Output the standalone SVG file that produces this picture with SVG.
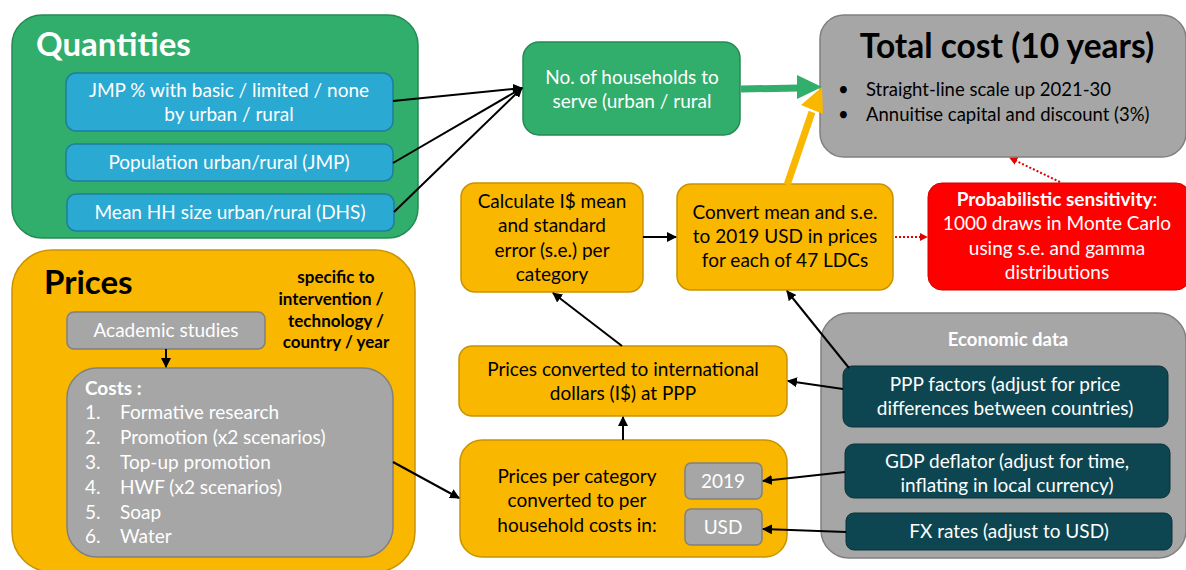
<svg xmlns="http://www.w3.org/2000/svg" width="1186" height="570" viewBox="0 0 1186 570">
<defs>
<style>
text{font-family:Lato,"Open Sans","Liberation Sans",sans-serif;font-size:19px}
.w{fill:#ffffff}
.k{fill:#000000}
.c{text-anchor:middle}
.b{font-weight:bold}
.sp{font-size:17px;font-weight:bold}
.green{fill:#31AD6C;stroke:#248A53;stroke-width:1.5}
.blue{fill:#2AA9D2;stroke:#1E7E9E;stroke-width:1.5}
.orange{fill:#F9B700;stroke:#C99300;stroke-width:1.5}
.gray{fill:#A6A6A6;stroke:#808080;stroke-width:1.5}
.teal{fill:#0D4651;stroke:#0A333B;stroke-width:1}
.red{fill:#FF0000;stroke:#D00000;stroke-width:1}
.ln{stroke:#000;stroke-width:2;fill:none;marker-end:url(#ah)}
.dot{stroke:#E00000;stroke-width:2;stroke-dasharray:2 2;fill:none;marker-end:url(#rh)}
</style>
<marker id="ah" viewBox="0 0 10 10" refX="9" refY="5" markerWidth="5" markerHeight="5" orient="auto">
<path d="M0,0 L10,5 L0,10 z" fill="#000"/>
</marker>
<marker id="rh" viewBox="0 0 10 10" refX="9" refY="5" markerWidth="4" markerHeight="4" orient="auto">
<path d="M0,0 L10,5 L0,10 z" fill="#E00000"/>
</marker>
</defs>

<g id="quantities">
<rect class="green" x="12" y="15" width="406" height="223" rx="30"/>
<text class="w b" x="36" y="56" style="font-size:33px">Quantities</text>
</g>
<g id="jmp">
<rect class="blue" x="66" y="73" width="327" height="58" rx="10"/>
<text class="w c" x="229" y="97">JMP % with basic / limited / none</text>
<text class="w c" x="229" y="121">by urban / rural</text>
</g>
<g id="population">
<rect class="blue" x="66" y="144" width="327" height="37" rx="9"/>
<text class="w c" x="229" y="169">Population urban/rural (JMP)</text>
</g>
<g id="hhsize">
<rect class="blue" x="67" y="194" width="327" height="37" rx="9"/>
<text class="w c" x="230" y="219">Mean HH size urban/rural (DHS)</text>
</g>

<g id="prices">
<rect class="orange" x="12" y="250" width="403" height="322" rx="40"/>
<text class="k b" x="44" y="294" style="font-size:33px">Prices</text>
<text class="k sp c" x="336" y="283">specific to</text>
<text class="k sp c" x="331" y="305">intervention /</text>
<text class="k sp c" x="336" y="327">technology /</text>
<text class="k sp c" x="336" y="348">country / year</text>
</g>
<g id="academic">
<rect class="gray" x="67" y="312" width="198" height="37" rx="7"/>
<text class="w c" x="166" y="337">Academic studies</text>
</g>
<g id="costs">
<rect class="gray" x="67" y="368" width="326" height="189" rx="30"/>
<text class="w b" x="85" y="395">Costs :</text>
<text class="w" x="85" y="419">1.</text><text class="w" x="120" y="419">Formative research</text>
<text class="w" x="85" y="444">2.</text><text class="w" x="120" y="444">Promotion (x2 scenarios)</text>
<text class="w" x="85" y="469">3.</text><text class="w" x="120" y="469">Top-up promotion</text>
<text class="w" x="85" y="494">4.</text><text class="w" x="120" y="494">HWF (x2 scenarios)</text>
<text class="w" x="85" y="519">5.</text><text class="w" x="120" y="519">Soap</text>
<text class="w" x="85" y="543">6.</text><text class="w" x="120" y="543">Water</text>
</g>

<g id="households">
<rect class="green" x="523" y="42" width="217" height="93" rx="16"/>
<text class="w c" x="632" y="84">No. of households to</text>
<text class="w c" x="632" y="108">serve (urban / rural</text>
</g>

<g id="totalcost">
<rect class="gray" x="820" y="15" width="366" height="142" rx="24"/>
<text class="k b c" x="1007" y="58" style="font-size:33.5px">Total cost (10 years)</text>
<text class="k" x="838" y="96" style="font-size:18.5px">•</text>
<text class="k" x="866" y="96" style="font-size:18.5px">Straight-line scale up 2021-30</text>
<text class="k" x="838" y="121" style="font-size:18.5px">•</text>
<text class="k" x="866" y="121" style="font-size:18.5px">Annuitise capital and discount (3%)</text>
</g>

<g id="calculate">
<rect class="orange" x="461" y="183" width="182" height="109" rx="14"/>
<text class="k c" x="552" y="208">Calculate I$ mean</text>
<text class="k c" x="552" y="232">and standard</text>
<text class="k c" x="552" y="257">error (s.e.) per</text>
<text class="k c" x="552" y="281">category</text>
</g>
<g id="convert">
<rect class="orange" x="677" y="184" width="216" height="106" rx="14"/>
<text class="k c" x="785" y="219">Convert mean and s.e.</text>
<text class="k c" x="785" y="243">to 2019 USD in prices</text>
<text class="k c" x="785" y="267">for each of 47 LDCs</text>
</g>
<g id="sensitivity">
<rect class="red" x="928" y="183" width="262" height="107" rx="14"/>
<text class="w c" x="1057" y="206"><tspan class="b">Probabilistic sensitivity</tspan>:</text>
<text class="w c" x="1057" y="230">1000 draws in Monte Carlo</text>
<text class="w c" x="1057" y="255">using s.e. and gamma</text>
<text class="w c" x="1057" y="279">distributions</text>
</g>

<g id="ppp-conv">
<rect class="orange" x="459" y="346" width="328" height="70" rx="13"/>
<text class="k c" x="623" y="376">Prices converted to international</text>
<text class="k c" x="623" y="400">dollars (I$) at PPP</text>
</g>
<g id="perhh">
<rect class="orange" x="460" y="440" width="327" height="117" rx="22"/>
<text class="k c" x="577" y="483">Prices per category</text>
<text class="k c" x="577" y="507">converted to per</text>
<text class="k c" x="577" y="532">household costs in:</text>
</g>
<g id="y2019">
<rect class="gray" x="685" y="463" width="77" height="36" rx="6"/>
<text class="w c" x="723" y="488">2019</text>
</g>
<g id="usd">
<rect class="gray" x="685" y="509" width="77" height="36" rx="6"/>
<text class="w c" x="723" y="534">USD</text>
</g>

<g id="economic">
<rect class="gray" x="821" y="313" width="365" height="245" rx="28"/>
<text class="w b c" x="1008" y="346" style="font-size:18.5px">Economic data</text>
</g>
<g id="ppp">
<rect class="teal" x="843" y="366" width="325" height="61" rx="9"/>
<text class="w c" x="1005" y="391">PPP factors (adjust for price</text>
<text class="w c" x="1005" y="415">differences between countries)</text>
</g>
<g id="gdp">
<rect class="teal" x="845" y="444" width="325" height="54" rx="9"/>
<text class="w c" x="1007" y="468">GDP deflator (adjust for time,</text>
<text class="w c" x="1007" y="492">inflating in local currency)</text>
</g>
<g id="fx">
<rect class="teal" x="846" y="513" width="326" height="37" rx="8"/>
<text class="w c" x="1009" y="538">FX rates (adjust to USD)</text>
</g>

<g id="connectors">
<path class="ln" d="M393,101 L522,88"/>
<path class="ln" d="M393,163 L522,88"/>
<path class="ln" d="M394,212 L522,88"/>
<path class="ln" d="M166,349 L166,367"/>
<path class="ln" d="M393,462 L459,498"/>
<path class="ln" d="M623,440 L623,417"/>
<path class="ln" d="M622,346 L553,293"/>
<path class="ln" d="M643,237 L676,237"/>
<path class="ln" d="M849,368 L787,291"/>
<path class="ln" d="M843,389 L788,381"/>
<path class="ln" d="M845,472 L763,481"/>
<path class="ln" d="M846,532 L763,529"/>
<path class="dot" d="M895,237 L927,237"/>
<path class="dot" d="M1060,182 L1010,158"/>
<path d="M741,89 L799,88" stroke="#31AD6C" stroke-width="7" fill="none"/>
<path d="M797,75 L822,87 L797,99 z" fill="#31AD6C"/>
<path d="M787,185 L812,112" stroke="#F9B700" stroke-width="7" fill="none"/>
<path d="M801,105 L822,87 L823,114 z" fill="#F9B700"/>
</g>
</svg>
